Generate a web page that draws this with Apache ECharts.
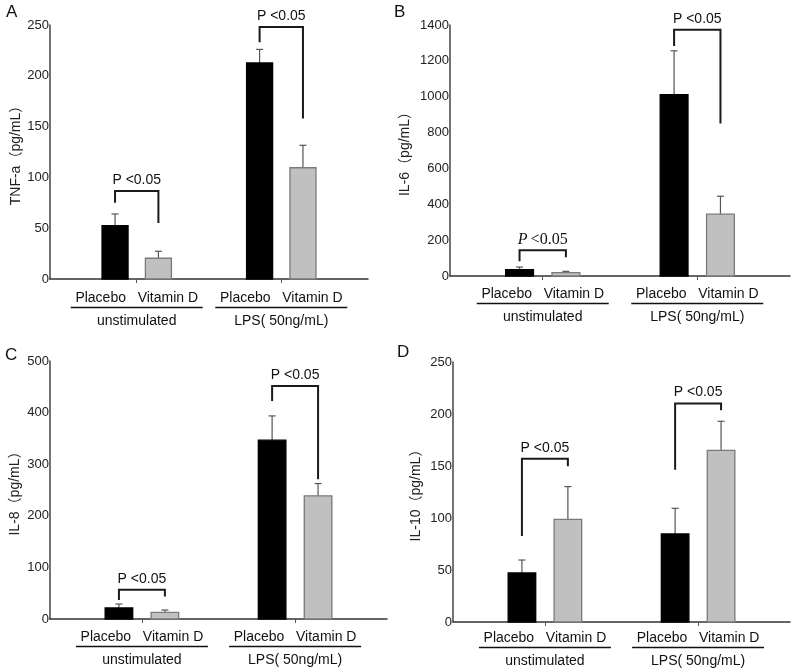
<!DOCTYPE html>
<html><head><meta charset="utf-8">
<script src="https://cdn.jsdelivr.net/npm/echarts@6/dist/echarts.min.js"></script>
<style>html,body{margin:0;padding:0;background:#fff}#c{width:800px;height:671px}</style>
</head><body><div id="c"></div>
<script>
// ---------- data ----------
const groups = ['unstimulated', 'LPS( 50ng/mL)'];
const treatments = ['Placebo', 'Vitamin D'];
const pLabel = 'P <0.05';

// A: TNF-a
const tnfPlacebo = [52.5, 212.6];
const tnfPlaceboErr = [11.5, 13.4];
const tnfVitD = [20.4, 109.5];
const tnfVitDErr = [6.9, 22.1];
const tnfTicks = [0, 50, 100, 150, 200, 250];
const tnfBrackets = [[86.6, 75, 55], [248, 233, 158]]; // [top, left end, right end]

// B: IL-6
const il6Placebo = [36, 1011];
const il6PlaceboErr = [14, 245];
const il6VitD = [19, 345];
const il6VitDErr = [7, 100];
const il6Ticks = [0, 200, 400, 600, 800, 1000, 1200, 1400];
const il6Brackets = [[143, 82, 104], [1373, 1283, 851]];

// C: IL-8
const il8Placebo = [21.3, 346.5];
const il8PlaceboErr = [7.7, 47.1];
const il8VitD = [12.9, 238.7];
const il8VitDErr = [4.5, 23.8];
const il8Ticks = [0, 100, 200, 300, 400, 500];
const il8Brackets = [[56.7, 37, 43.7], [451.6, 422.6, 271]];

// D: IL-10
const il10Placebo = [47.1, 84.6];
const il10PlaceboErr = [12.5, 24.7];
const il10VitD = [98.7, 165.1];
const il10VitDErr = [31.5, 27.9];
const il10Ticks = [0, 50, 100, 150, 200, 250];
const il10Brackets = [[157, 82.7, 149.7], [210, 146.5, 203.5]];

// ---------- layout ----------
const FONT = "'Liberation Sans', Arial, 'Noto Sans CJK SC', sans-serif";
const panels = [
  {letter: 'A', name: 'TNF-a（pg/mL）', pl: tnfPlacebo, plE: tnfPlaceboErr, vd: tnfVitD, vdE: tnfVitDErr, ticks: tnfTicks, br: tnfBrackets,
   grid: {left: 50, right: 432, top: 25, bottom: 392}, nameGap: 26, lp: [6, 4], italic: [false, false], lm: 13},
  {letter: 'B', name: 'IL-6（pg/mL）', pl: il6Placebo, plE: il6PlaceboErr, vd: il6VitD, vdE: il6VitDErr, ticks: il6Ticks, br: il6Brackets,
   grid: {left: 450, right: 10, top: 25, bottom: 395}, nameGap: 38, lp: [394, 4], italic: [true, false], lm: 12},
  {letter: 'C', name: 'IL-8（pg/mL）', pl: il8Placebo, plE: il8PlaceboErr, vd: il8VitD, vdE: il8VitDErr, ticks: il8Ticks, br: il8Brackets,
   grid: {left: 50, right: 413, top: 361, bottom: 52}, nameGap: 28, lp: [5, 347], italic: [false, false], lm: 12},
  {letter: 'D', name: 'IL-10（pg/mL）', pl: il10Placebo, plE: il10PlaceboErr, vd: il10VitD, vdE: il10VitDErr, ticks: il10Ticks, br: il10Brackets,
   grid: {left: 453, right: 10, top: 362, bottom: 49}, nameGap: 30, lp: [397, 344], italic: [false, false], lm: 10}
];

const OFF = 0.15;   // half distance between bar centres (axis units)
const BW = 0.18;    // bar width (axis units)

function barSeries(pi, vals, errs, side, fill, stroke, name) {
  return {
    type: 'custom', name: name, xAxisIndex: pi, yAxisIndex: pi, clip: false,
    data: vals.map((v, i) => [i, v, errs[i]]),
    renderItem: function (params, api) {
      const xc = api.value(0) + 1 + side * OFF;
      const v = api.value(1), e = api.value(2);
      const a = api.coord([xc - BW / 2, v]);
      const b = api.coord([xc + BW / 2, 0]);
      const c = api.coord([xc, v]);
      const t = api.coord([xc, v + e]);
      return {
        type: 'group', children: [
          {type: 'line', shape: {x1: c[0], y1: c[1], x2: t[0], y2: t[1]}, style: {stroke: '#555', lineWidth: 1.2}},
          {type: 'line', shape: {x1: t[0] - 3.5, y1: t[1], x2: t[0] + 3.5, y2: t[1]}, style: {stroke: '#555', lineWidth: 1.2}},
          {type: 'rect', shape: {x: a[0], y: a[1], width: b[0] - a[0], height: b[1] - a[1]},
           style: {fill: fill, stroke: stroke, lineWidth: 1.3}}
        ]
      };
    }
  };
}

function bracketSeries(pi, br, italic) {
  return {
    type: 'custom', xAxisIndex: pi, yAxisIndex: pi, clip: false, silent: true,
    data: br.map((b, i) => [i, b[0], b[1], b[2]]),
    renderItem: function (params, api) {
      const g = api.value(0);
      const xl = g + 1 - OFF, xr = g + 1 + OFF;
      const top = api.value(1);
      const p1 = api.coord([xl, api.value(2)]);
      const p2 = api.coord([xl, top]);
      const p3 = api.coord([xr, top]);
      const p4 = api.coord([xr, api.value(3)]);
      const mid = api.coord([g + 1, top]);
      const it = italic[g];
      const textStyle = it ? {
        text: '{i|P}{r|<0.05}', x: mid[0], y: mid[1] - 3, align: 'center', verticalAlign: 'bottom',
        rich: {i: {fontFamily: "'Liberation Serif', serif", fontStyle: 'italic', fontSize: 16, fill: '#111', padding: [0, 3, 0, 0]},
               r: {fontFamily: "'Liberation Serif', serif", fontSize: 16, fill: '#111'}}
      } : {
        text: pLabel, x: mid[0], y: mid[1] - 4, align: 'center', verticalAlign: 'bottom',
        fontFamily: FONT, fontSize: 14, fill: '#111'
      };
      return {
        type: 'group', children: [
          {type: 'polyline', shape: {points: [p1, p2, p3, p4]}, style: {stroke: '#1a1a1a', lineWidth: 2, fill: null, lineJoin: 'miter'}},
          {type: 'text', style: textStyle}
        ]
      };
    }
  };
}

const option = {
  backgroundColor: '#fff',
  animation: false,
  title: panels.map(p => ({text: p.letter, left: p.lp[0], top: p.lp[1], padding: 0,
    textStyle: {fontFamily: FONT, fontSize: 17, fontWeight: 'normal', color: '#111'}})),
  grid: panels.map(p => Object.assign({containLabel: false}, p.grid)),
  xAxis: panels.map((p, i) => ({
    gridIndex: i, type: 'value', min: 0.4, max: 2.6,
    axisLine: {show: true, onZero: false, lineStyle: {color: '#333', width: 1.5}},
    axisTick: {show: true, customValues: [1, 2], length: 4, lineStyle: {color: '#555', width: 1}},
    axisLabel: {
      show: true, customValues: [1, 2], margin: p.lm, color: '#111',
      formatter: v => '{a|' + treatments[0] + '   ' + treatments[1] + '}\n{u| }\n{b|' + groups[Math.round(v) - 1] + '}',
      rich: {
        a: {fontFamily: FONT, fontSize: 14, lineHeight: 12, color: '#111'},
        u: {width: 132, height: 1.6, lineHeight: 7, backgroundColor: '#111', fontSize: 2},
        b: {fontFamily: FONT, fontSize: 14, lineHeight: 21, color: '#111'}
      }
    },
    splitLine: {show: false}
  })),
  yAxis: panels.map((p, i) => ({
    gridIndex: i, type: 'value', min: p.ticks[0], max: p.ticks[p.ticks.length - 1], interval: p.ticks[1] - p.ticks[0],
    axisLine: {show: true, lineStyle: {color: '#444', width: 1.5}},
    axisTick: {show: false},
    axisLabel: {margin: 1, fontFamily: FONT, fontSize: 13, color: '#222', formatter: v => String(v)},
    splitLine: {show: false},
    name: p.name, nameLocation: 'middle', nameGap: p.nameGap,
    nameTextStyle: {fontFamily: FONT, fontSize: 14, color: '#222'}
  })),
  series: panels.flatMap((p, i) => [
    barSeries(i, p.pl, p.plE, -1, '#000', '#000', treatments[0]),
    barSeries(i, p.vd, p.vdE, 1, '#c0c0c0', '#7a7a7a', treatments[1]),
    bracketSeries(i, p.br, p.italic)
  ])
};

const chart = echarts.init(document.getElementById('c'), null, {renderer: 'canvas'});
chart.setOption(option);
</script>
</body></html>
